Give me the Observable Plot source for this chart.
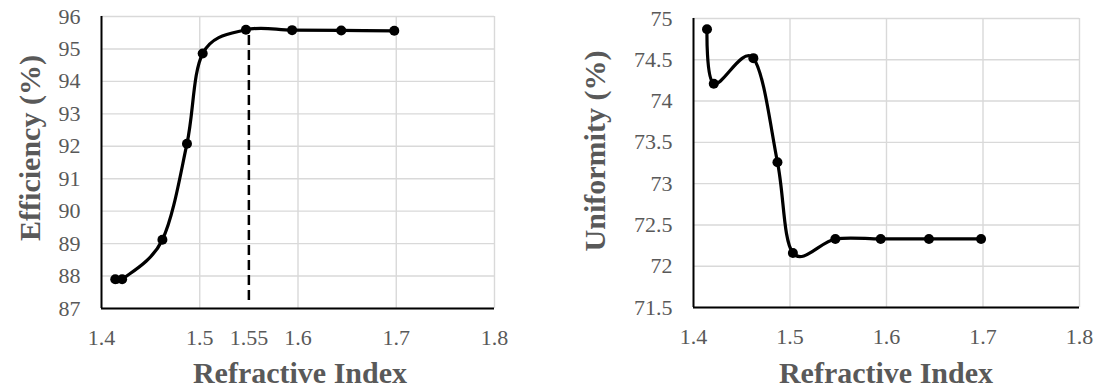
<!DOCTYPE html>
<html>
<head>
<meta charset="utf-8">
<script src="https://cdn.jsdelivr.net/npm/d3@7"></script>
<script src="https://cdn.jsdelivr.net/npm/@observablehq/plot@0.6"></script>
<style>
  html, body { margin: 0; padding: 0; background: #fff; }
  #wrap { position: relative; width: 1101px; height: 389px; overflow: hidden; }
  #left { position: absolute; left: 0; top: 0; }
  #right { position: absolute; left: 545px; top: 0; }
  .title {
    position: absolute; white-space: nowrap; line-height: 1;
    font-family: 'Liberation Serif', 'Times New Roman', serif;
    font-weight: bold; font-size: 30px; color: #595959;
    transform: translate(-50%, -50%);
  }
  .title.rot { transform: translate(-50%, -50%) rotate(-90deg); }
</style>
</head>
<body>
<div id="wrap">
  <div id="left"></div><div id="right"></div>
</div>
<script>
// ---- data ----
const refractiveIndex = [1.414, 1.421, 1.462, 1.487, 1.503, 1.547, 1.594, 1.644, 1.698];
const efficiency = [87.9, 87.9, 89.12, 92.08, 94.86, 95.59, 95.58, 95.57, 95.56];
const uniformity = [74.87, 74.21, 74.52, 73.26, 72.16, 72.33, 72.33, 72.33, 72.33];

const effXTicks = [1.4, 1.5, 1.55, 1.6, 1.7, 1.8];
const effXGrid = [1.5, 1.6, 1.7, 1.8];
const effYTicks = [87, 88, 89, 90, 91, 92, 93, 94, 95, 96];
const uniXTicks = [1.4, 1.5, 1.6, 1.7, 1.8];
const uniXGrid = [1.5, 1.6, 1.7, 1.8];
const uniYTicks = [71.5, 72, 72.5, 73, 73.5, 74, 74.5, 75];

const markerX = [1.55];
const markerY1 = 87.25;
const markerY2 = 95.55;

const xTitle = "Refractive Index";
const effTitle = "Efficiency (%)";
const uniTitle = "Uniformity (%)";

const effData = refractiveIndex.map((x, i) => ({x, y: efficiency[i]}));
const uniData = refractiveIndex.map((x, i) => ({x, y: uniformity[i]}));

const GRID = "#d9d9d9";
const TEXT = "#595959";
const FONT = "Liberation Serif";
const fmt = d => String(d);

function chart({data, xTicks, xGrid, yTicks, yDomain, width, marginLeft, marginRight, marginTop, marginBottom, extra}) {
  return Plot.plot({
    width, height: 389, marginLeft, marginRight, marginTop, marginBottom,
    style: {fontFamily: FONT, fontSize: "22px", color: TEXT, background: "transparent", overflow: "visible"},
    x: {domain: [1.4, 1.8]},
    y: {domain: yDomain},
    marks: [
      Plot.gridY(yTicks, {stroke: GRID, strokeOpacity: 1, strokeWidth: 1.4}),
      Plot.gridX(xGrid, {stroke: GRID, strokeOpacity: 1, strokeWidth: 1.4}),
      Plot.axisY(yTicks, {tickSize: 0, tickPadding: 21, tickFormat: fmt, label: null, fill: TEXT, fontFamily: FONT, fontSize: 22}),
      Plot.axisX(xTicks, {tickSize: 0, tickPadding: 21, tickFormat: fmt, label: null, fill: TEXT, fontFamily: FONT, fontSize: 22}),
      ...(extra || []),
      Plot.ruleX([1.4], {stroke: "#000", strokeWidth: 2}),
      Plot.ruleY([yDomain[0]], {stroke: "#000", strokeWidth: 2}),
      Plot.line(data, {x: "x", y: "y", curve: "cardinal", tension: 0, stroke: "#000", strokeWidth: 3.2}),
      Plot.dot(data, {x: "x", y: "y", r: 5, fill: "#000", stroke: "none"})
    ]
  });
}

document.getElementById("left").append(chart({
  data: effData, xTicks: effXTicks, xGrid: effXGrid, yTicks: effYTicks, yDomain: [87, 96],
  width: 545, marginLeft: 101, marginRight: 51, marginTop: 16, marginBottom: 81,
  extra: [Plot.ruleX(markerX, {y1: markerY1, y2: markerY2, stroke: "#000", strokeWidth: 2.5, strokeDasharray: "10,5"})]
}));

document.getElementById("right").append(chart({
  data: uniData, xTicks: uniXTicks, xGrid: uniXGrid, yTicks: uniYTicks, yDomain: [71.5, 75],
  width: 556, marginLeft: 148, marginRight: 22, marginTop: 18, marginBottom: 82
}));

// axis titles
const wrap = document.getElementById("wrap");
function addTitle(text, left, top, rot) {
  const d = document.createElement("div");
  d.className = "title" + (rot ? " rot" : "");
  d.textContent = text;
  d.style.left = left + "px";
  d.style.top = top + "px";
  wrap.append(d);
}
addTitle(xTitle, 300, 373, false);
addTitle(xTitle, 886, 373, false);
addTitle(effTitle, 30, 148, true);
addTitle(uniTitle, 595, 151, true);
</script>
</body>
</html>
